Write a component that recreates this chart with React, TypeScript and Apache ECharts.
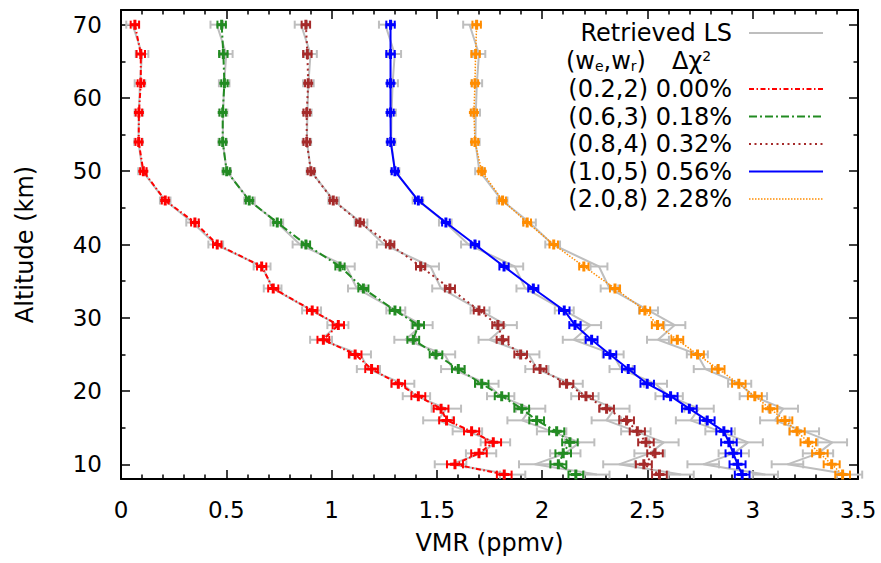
import React, { useEffect, useRef } from "react";
import * as echarts from "echarts";

// Altitude levels (km)
const altitudes = [70, 66, 62, 58, 54, 50, 46, 43, 40, 37, 34, 31, 29, 27, 25, 23, 21, 19.3, 17.6, 16, 14.5, 13, 11.5, 10, 8.6];

// Retrieved LS profile (ppmv), drawn once per fit with its offset
const retrievedLS = [0.055, 0.1, 0.09, 0.085, 0.083, 0.102, 0.21, 0.34, 0.45, 0.67, 0.72, 0.905, 1.03, 0.95, 1.137, 1.175, 1.338, 1.403, 1.545, 1.505, 1.645, 1.778, 1.71, 1.565, 1.86];
const lsOffsets = [0, 0.4, 0.8, 1.2, 1.6];
const lsErr = [0.03, 0.03, 0.025, 0.02, 0.02, 0.02, 0.025, 0.03, 0.035, 0.04, 0.042, 0.045, 0.05, 0.052, 0.05, 0.055, 0.055, 0.065, 0.07, 0.07, 0.07, 0.07, 0.072, 0.075, 0.06];
const fitErr = [0.02, 0.02, 0.015, 0.015, 0.015, 0.015, 0.016, 0.018, 0.02, 0.022, 0.024, 0.025, 0.027, 0.028, 0.03, 0.03, 0.032, 0.033, 0.035, 0.035, 0.036, 0.037, 0.037, 0.038, 0.035];

// Fits (ppmv)
const fitRed = [0.066, 0.094, 0.094, 0.085, 0.084, 0.106, 0.21, 0.351, 0.457, 0.668, 0.723, 0.908, 1.032, 0.961, 1.112, 1.19, 1.317, 1.412, 1.52, 1.546, 1.665, 1.768, 1.7, 1.586, 1.82];
const fitGreen = [0.478, 0.486, 0.491, 0.483, 0.483, 0.502, 0.609, 0.742, 0.878, 1.04, 1.151, 1.301, 1.412, 1.388, 1.496, 1.602, 1.713, 1.808, 1.903, 1.974, 2.069, 2.132, 2.1, 2.077, 2.16];
const fitBrown = [0.878, 0.885, 0.889, 0.882, 0.882, 0.902, 1.008, 1.135, 1.278, 1.423, 1.562, 1.7, 1.79, 1.812, 1.898, 1.99, 2.116, 2.208, 2.306, 2.401, 2.452, 2.493, 2.536, 2.483, 2.557];
const fitBlue = [1.28, 1.28, 1.28, 1.28, 1.281, 1.301, 1.412, 1.543, 1.681, 1.819, 1.958, 2.105, 2.156, 2.235, 2.322, 2.409, 2.499, 2.61, 2.699, 2.784, 2.863, 2.887, 2.908, 2.928, 2.95];
const fitOrange = [1.689, 1.684, 1.681, 1.676, 1.681, 1.713, 1.812, 1.929, 2.055, 2.198, 2.346, 2.488, 2.548, 2.642, 2.738, 2.836, 2.934, 3.01, 3.082, 3.153, 3.211, 3.264, 3.319, 3.375, 3.427];

const fitNames = ["(0.2,2) 0.00%", "(0.6,3) 0.18%", "(0.8,4) 0.32%", "(1.0,5) 0.56%", "(2.0,8) 2.28%"];
const lsName = "Retrieved LS";

const yMajorTicks = [10, 20, 30, 40, 50, 60, 70];
const yMinorTicks = [15, 25, 35, 45, 55, 65];

const FONT = "'DejaVu Sans', sans-serif";
const GRAY = "#bebebe";
const PLUS = "path://M3.5,0H6.5V3.5H10V6.5H6.5V10H3.5V6.5H0V3.5H3.5Z";

const fitStyles = [
  { color: "#ff0000", dash: [5, 2.5, 1.5, 2.5] as any, width: 2 },
  { color: "#228b22", dash: [8, 3, 2, 3] as any, width: 2 },
  { color: "#a52a2a", dash: [2, 3.5] as any, width: 2 },
  { color: "#0000ff", dash: "solid" as any, width: 2 },
  { color: "#ff8c00", dash: [1.5, 1.5] as any, width: 1.5 },
];

function errSeries(data: number[][], color: string, width: number, z: number) {
  return {
    type: "custom",
    silent: true,
    z,
    encode: { x: [0, 2, 3], y: 1 },
    data,
    renderItem: (params: any, api: any) => {
      const y = api.value(1);
      const p0 = api.coord([api.value(2), y]);
      const p1 = api.coord([api.value(3), y]);
      const h = 4;
      const style = { stroke: color, lineWidth: width };
      return {
        type: "group",
        children: [
          { type: "line", shape: { x1: p0[0], y1: p0[1], x2: p1[0], y2: p1[1] }, style },
          { type: "line", shape: { x1: p0[0], y1: p0[1] - h, x2: p0[0], y2: p0[1] + h }, style },
          { type: "line", shape: { x1: p1[0], y1: p1[1] - h, x2: p1[0], y2: p1[1] + h }, style },
        ],
      };
    },
  };
}

export default function App() {
  const ref = useRef<HTMLDivElement>(null);
  useEffect(() => {
    if (!ref.current) return;
    const chart = echarts.init(ref.current, undefined, { renderer: "svg" });
    const fits = [fitRed, fitGreen, fitBrown, fitBlue, fitOrange];
    const series: any[] = [];
    lsOffsets.forEach((off) => {
      const pts = altitudes.map((a, k) => [retrievedLS[k] + off, a]);
      series.push({
        type: "line",
        name: lsName,
        data: pts,
        symbol: "none",
        silent: true,
        z: 1,
        lineStyle: { color: GRAY, width: 2 },
      });
      series.push(
        errSeries(
          altitudes.map((a, k) => [retrievedLS[k] + off, a, retrievedLS[k] + off - lsErr[k], retrievedLS[k] + off + lsErr[k]]),
          GRAY,
          2,
          1
        )
      );
    });
    fits.forEach((vals, i) => {
      const st = fitStyles[i];
      series.push({
        type: "line",
        name: fitNames[i],
        data: altitudes.map((a, k) => [vals[k], a]),
        symbol: PLUS,
        symbolSize: 10,
        silent: true,
        z: 3,
        itemStyle: { color: st.color },
        lineStyle: { color: st.color, width: st.width, type: st.dash },
      });
      series.push(
        errSeries(
          altitudes.map((a, k) => [vals[k], a, vals[k] - fitErr[k], vals[k] + fitErr[k]]),
          st.color,
          2,
          3
        )
      );
    });

    const axisLine = { show: true, lineStyle: { color: "#000", width: 2 } };
    const tickStyle = { color: "#000", width: 1.5 };
    const labelStyle = { fontSize: 23, color: "#000", fontFamily: FONT };
    const LEG = 24;

    const legendX = 732;
    const lineX1 = 749;
    const lineX2 = 823;
    const rowY = [33, 60.5, 89, 116.5, 144, 171.5, 199];
    const graphic: any[] = [];
    graphic.push({
      type: "text",
      x: legendX,
      y: rowY[0],
      style: { text: lsName, fill: "#000", fontSize: LEG, fontFamily: FONT, align: "right", verticalAlign: "middle" },
    });
    graphic.push({
      type: "line",
      shape: { x1: lineX1, y1: rowY[0], x2: lineX2, y2: rowY[0] },
      style: { stroke: GRAY, lineWidth: 2 },
    });
    graphic.push({
      type: "text",
      x: 566,
      y: rowY[1],
      style: {
        text: "{a|(w}{s|e}{a|,w}{s|r}{a|)}",
        verticalAlign: "middle",
        align: "left",
        rich: {
          a: { fontSize: LEG, fontFamily: FONT, fill: "#000", lineHeight: 24 },
          s: { fontSize: 14, fontFamily: FONT, fill: "#000", lineHeight: 12, verticalAlign: "bottom" },
        },
      },
    });
    graphic.push({
      type: "text",
      x: 672,
      y: rowY[1],
      style: {
        text: "{a|Δχ}{p|2}",
        verticalAlign: "middle",
        align: "left",
        rich: {
          a: { fontSize: LEG, fontFamily: FONT, fill: "#000", lineHeight: 24 },
          p: { fontSize: 14, fontFamily: FONT, fill: "#000", lineHeight: 12, verticalAlign: "top" },
        },
      },
    });
    fitNames.forEach((nm, i) => {
      const st = fitStyles[i];
      const y = rowY[i + 2];
      graphic.push({
        type: "text",
        x: legendX,
        y,
        style: { text: nm, fill: "#000", fontSize: LEG, fontFamily: FONT, align: "right", verticalAlign: "middle" },
      });
      graphic.push({
        type: "line",
        shape: { x1: lineX1, y1: y, x2: lineX2, y2: y },
        style: { stroke: st.color, lineWidth: st.width, lineDash: st.dash === "solid" ? null : st.dash },
      });
    });

    chart.setOption({
      animation: false,
      backgroundColor: "#fff",
      grid: { left: 121, top: 10, right: 23, bottom: 84, containLabel: false },
      xAxis: [
        {
          type: "value",
          min: 0,
          max: 3.5,
          interval: 0.5,
          position: "bottom",
          axisLine,
          axisTick: { show: true, inside: true, length: 9, lineStyle: tickStyle },
          minorTick: { show: true, splitNumber: 5, length: 4.5, lineStyle: tickStyle },
          axisLabel: { ...labelStyle, margin: 19 },
          splitLine: { show: false },
          name: "VMR (ppmv)",
          nameLocation: "middle",
          nameGap: 52,
          nameTextStyle: { ...labelStyle, fontSize: 24 },
        },
        {
          type: "value",
          min: 0,
          max: 3.5,
          interval: 0.5,
          position: "top",
          axisLine,
          axisTick: { show: true, inside: true, length: 9, lineStyle: tickStyle },
          minorTick: { show: true, splitNumber: 5, length: 4.5, lineStyle: tickStyle },
          axisLabel: { show: false },
          splitLine: { show: false },
        },
      ],
      yAxis: [
        {
          type: "value",
          min: 8,
          max: 72,
          position: "left",
          axisLine,
          axisTick: { show: true, inside: true, length: 9, lineStyle: tickStyle, customValues: yMajorTicks },
          axisLabel: { ...labelStyle, margin: 19, customValues: yMajorTicks },
          splitLine: { show: false },
          name: "Altitude (km)",
          nameLocation: "middle",
          nameGap: 84,
          nameRotate: 90,
          nameTextStyle: { ...labelStyle, fontSize: 24 },
        },
        {
          type: "value",
          min: 8,
          max: 72,
          position: "left",
          axisLine: { show: false },
          axisTick: { show: true, inside: true, length: 4.5, lineStyle: tickStyle, customValues: yMinorTicks },
          axisLabel: { show: false },
          splitLine: { show: false },
        },
        {
          type: "value",
          min: 8,
          max: 72,
          position: "right",
          axisLine,
          axisTick: { show: true, inside: true, length: 9, lineStyle: tickStyle, customValues: yMajorTicks },
          axisLabel: { show: false },
          splitLine: { show: false },
        },
        {
          type: "value",
          min: 8,
          max: 72,
          position: "right",
          axisLine: { show: false },
          axisTick: { show: true, inside: true, length: 4.5, lineStyle: tickStyle, customValues: yMinorTicks },
          axisLabel: { show: false },
          splitLine: { show: false },
        },
      ],
      series,
      graphic,
    });
    return () => chart.dispose();
  }, []);
  return <div ref={ref} style={{ position: "fixed", left: 0, top: 0, width: 881, height: 563 }} />;
}
